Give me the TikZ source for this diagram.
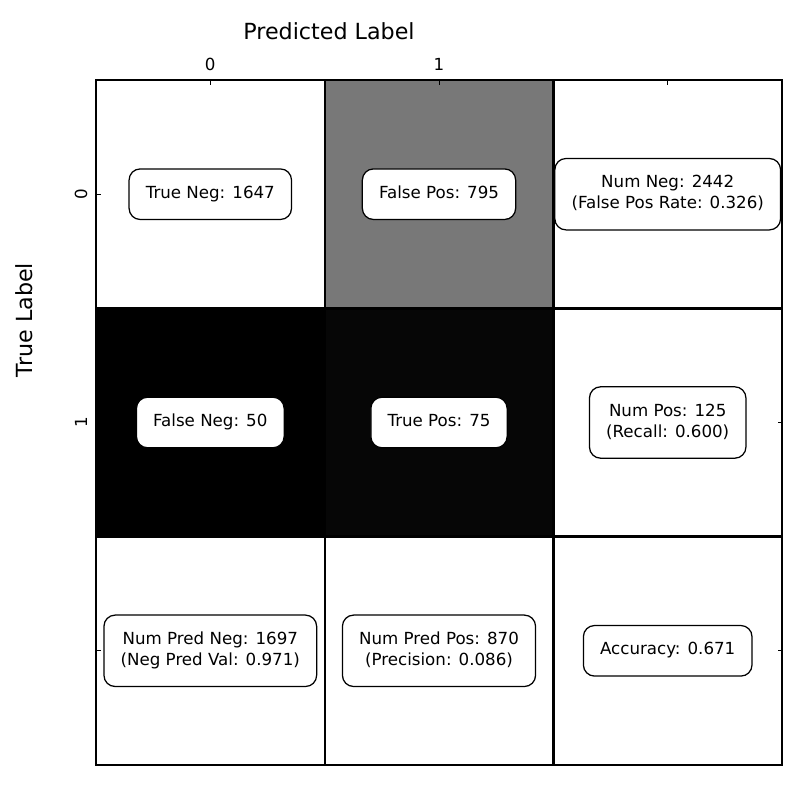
\documentclass[tikz,border=0pt]{standalone}
\usepackage{fontspec}
\setmainfont{DejaVu Sans}
\newcommand\boxstrut{\rule[-3.2pt]{0pt}{12.4pt}}
\begin{document}
\begin{tikzpicture}[x=0.72pt,y=-0.72pt,
  cellbox/.style={draw=none,minimum width=228.67*0.72pt,minimum height=228.33*0.72pt,inner sep=0pt,anchor=center},
  infobox/.style={draw=black,line width=0.9pt,fill=white,rounded corners=8pt,align=center,
     font=\fontsize{12}{15}\selectfont,inner xsep=12pt,inner ysep=12pt},
  ticklbl/.style={font=\fontsize{12}{14}\selectfont,inner sep=0pt},
  axislbl/.style={font=\fontsize{16}{19}\selectfont,inner sep=0pt},
  gridline/.style={line width=1.8pt,black},
  frameline/.style={line width=0.8pt,black},
  tickmark/.style={line width=0.6pt,black}]
\useasboundingbox[fill=white] (0,0) rectangle (800,800);
% cells
\node[cellbox,fill=white] (c00) at (210.3,194.2) {};
\node[cellbox,fill=black!53] (c01) at (439,194.2) {};
\node[cellbox,fill=white] (c02) at (667.7,194.2) {};
\node[cellbox,fill=black] (c10) at (210.3,422.5) {};
\node[cellbox,fill=black!97.5] (c11) at (439,422.5) {};
\node[cellbox,fill=white] (c12) at (667.7,422.5) {};
\node[cellbox,fill=white] (c20) at (210.3,650.8) {};
\node[cellbox,fill=white] (c21) at (439,650.8) {};
\node[cellbox,fill=white] (c22) at (667.7,650.8) {};
% grid lines
\coordinate (v1t) at (325,80); \coordinate (v1b) at (325,765);
\coordinate (v2t) at (553.5,80); \coordinate (v2b) at (553.5,765);
\coordinate (h1l) at (96,308.3); \coordinate (h1r) at (782,308.3);
\coordinate (h2l) at (96,536.7); \coordinate (h2r) at (782,536.7);
\draw[gridline] (v1t) -- (v1b);
\draw[gridline] (v2t) -- (v2b);
\draw[gridline] (h1l) -- (h1r);
\draw[gridline] (h2l) -- (h2r);
% frame
\coordinate (tl) at (96,80); \coordinate (br) at (782,765);
\draw[frameline] (tl) rectangle (br);
% ticks
\foreach \x in {210.3,439,667.7} {\draw[tickmark] (\x,80) -- (\x,84.5);}
\foreach \y in {194.2,422.5,650.8} {\draw[tickmark] (96,\y) -- (100.5,\y); \draw[tickmark] (782,\y) -- (777.5,\y);}
% tick labels
\node[ticklbl] (tx0) at (210.3,64) {0};
\node[ticklbl] (tx1) at (439,64) {1};
\node[ticklbl,rotate=90] (ty0) at (81,194.2) {0};
\node[ticklbl,rotate=90] (ty1) at (81,422.5) {1};
% axis labels
\node[axislbl] (xl) at (329,31) {Predicted Label};
\node[axislbl,rotate=90] (yl) at (24,320) {True Label};
% info boxes
\node[infobox] (b00) at (210.3,194.2) {\boxstrut True Neg: 1647};
\node[infobox] (b01) at (439,194.2) {\boxstrut False Pos: 795};
\node[infobox] (b02) at (667.7,194.2) {\boxstrut Num Neg: 2442\\\boxstrut(False Pos Rate: 0.326)};
\node[infobox] (b10) at (210.3,422.5) {\boxstrut False Neg: 50};
\node[infobox] (b11) at (439,422.5) {\boxstrut True Pos: 75};
\node[infobox] (b12) at (667.7,422.5) {\boxstrut Num Pos: 125\\\boxstrut(Recall: 0.600)};
\node[infobox] (b20) at (210.3,650.8) {\boxstrut Num Pred Neg: 1697\\\boxstrut(Neg Pred Val: 0.971)};
\node[infobox] (b21) at (439,650.8) {\boxstrut Num Pred Pos: 870\\\boxstrut(Precision: 0.086)};
\node[infobox] (b22) at (667.7,650.8) {\boxstrut Accuracy: 0.671};
\end{tikzpicture}
\end{document}
